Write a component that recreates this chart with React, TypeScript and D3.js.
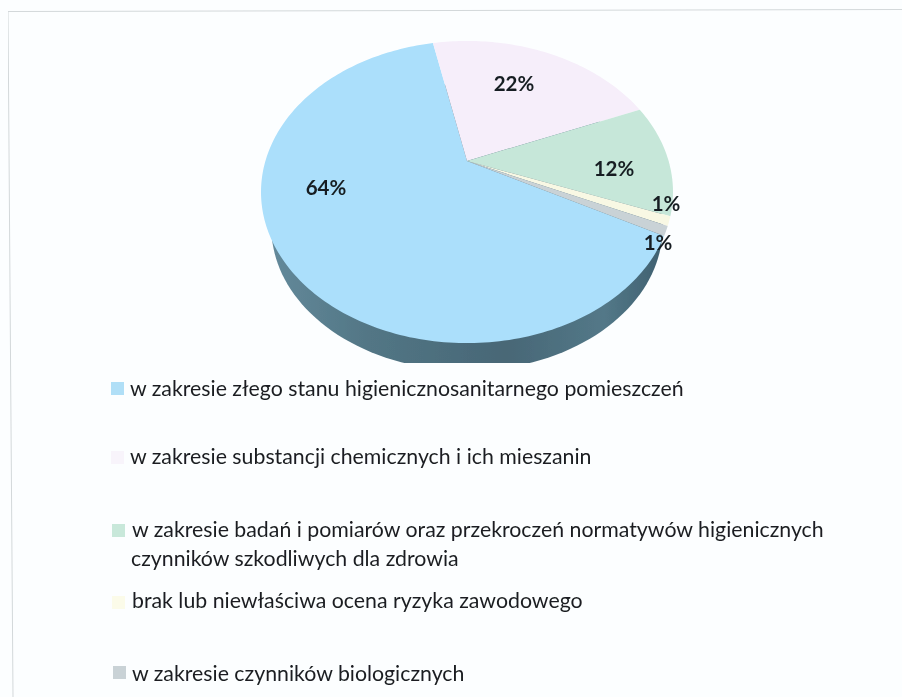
import React from 'react';
import * as d3 from 'd3';

// values
const categories = [
  'w zakresie złego stanu higienicznosanitarnego pomieszczeń',
  'w zakresie substancji chemicznych i ich mieszanin',
  'w zakresie badań i pomiarów oraz przekroczeń normatywów higienicznych',
  'brak lub niewłaściwa ocena ryzyka zawodowego',
  'w zakresie czynników biologicznych',
];
const values = [64, 22, 12, 1, 1];
const colors = ['#abdffb', '#f6eefa', '#c6e7d9', '#f8f8e4', '#c9d2d6'];
const keyColors = ['#b0dff7', '#f8f4fb', '#c8e8da', '#fbfbe9', '#c9d2d6'];
const legendSecondLine = 'czynników szkodliwych dla zdrowia';

const WIDTH = 902;
const HEIGHT = 697;

// the pie is seen in perspective, so its middle sits above the middle of the ellipse
const apex = { x: 467, y: 161 };
const scaleX = 201.6;
const scaleY = 144.7;
const tilt = -0.2055;
const firstAngle = (117.9 * Math.PI) / 180;
const depth = { dy: 35, shrink: 0.95 };
const floorY = 363;

const labelSpots: [number, number][] = [
  [326, 189.5],
  [514, 85.5],
  [614, 170.5],
  [666, 205.5],
  [658, 244.5],
];
const legendRows = [
  { y: 395.5, keyY: 388, textX: 130, keyX: 111 },
  { y: 464, keyY: 457, textX: 130, keyX: 111 },
  { y: 537, keyY: 530, textX: 132, keyX: 112 },
  { y: 608, keyY: 602, textX: 132, keyX: 112 },
  { y: 681, keyY: 672, textX: 132, keyX: 113 },
];

const project = (angle: number, r = 1): [number, number] => {
  const u = r * Math.sin(angle);
  const v = -r * Math.cos(angle);
  const w = 1 + tilt * v;
  return [apex.x + (scaleX * u) / w, apex.y + (scaleY * v) / w];
};

const line = d3.line();

const slicePath = (a0: number, a1: number) => {
  const steps = Math.max(2, Math.ceil((a1 - a0) / 0.02));
  const rim = d3.range(steps + 1).map((i) => project(a0 + ((a1 - a0) * i) / steps));
  return line([[apex.x, apex.y], ...rim]) + 'Z';
};

const App = () => {
  const arcs = d3
    .pie<number>()
    .sort(null)
    .startAngle(firstAngle)
    .endAngle(firstAngle + 2 * Math.PI)(values);

  const rim = d3.range(0, 361, 2).map((d) => project((d * Math.PI) / 180));
  const minY = d3.min(rim, (p) => p[1]) as number;
  const maxY = d3.max(rim, (p) => p[1]) as number;
  const midY = (minY + maxY) / 2;
  const base = rim.map(([x, y]): [number, number] => [
    apex.x + (x - apex.x) * depth.shrink,
    midY + (y - midY) * depth.shrink + depth.dy,
  ]);

  return (
    <svg
      width={WIDTH}
      height={HEIGHT}
      style={{ position: 'absolute', left: 0, top: 0, display: 'block' }}
      fontFamily="Lato, 'Open Sans', sans-serif"
    >
      <defs>
        <linearGradient id="side" x1="0" x2="1" y1="0" y2="0">
          <stop offset="0" stopColor="#63899a" />
          <stop offset="0.25" stopColor="#527685" />
          <stop offset="0.6" stopColor="#486776" />
          <stop offset="0.85" stopColor="#537888" />
          <stop offset="1" stopColor="#3f6070" />
        </linearGradient>
        <clipPath id="floor">
          <rect x={0} y={0} width={WIDTH} height={floorY} />
        </clipPath>
        <filter id="scan" x="0" y="0" width="1" height="1">
          <feGaussianBlur stdDeviation="0.45" />
        </filter>
      </defs>
      <rect width={WIDTH} height={HEIGHT} fill="#fcfeff" />
      <g filter="url(#scan)">
        <path d="M8,11.5L902,9.5M8,11.5L13,697" fill="none" stroke="#d3d8da" strokeWidth={1} />

        <path d={line(base) + 'Z'} fill="url(#side)" clipPath="url(#floor)" />
        {arcs.map((d, i) => (
          <path key={i} d={slicePath(d.startAngle, d.endAngle)} fill={colors[i]} />
        ))}
        {arcs.map((d, i) => (
          <text
            key={i}
            x={labelSpots[i][0]}
            y={labelSpots[i][1]}
            textAnchor="middle"
            dominantBaseline="middle"
            fontSize={20.5}
            fontWeight={700}
            fill="#171f22"
          >
            {d.value}%
          </text>
        ))}

        {categories.map((c, i) => (
          <g key={i}>
            <rect x={legendRows[i].keyX} y={legendRows[i].keyY - 6} width={13} height={13} fill={keyColors[i]} />
            <text x={legendRows[i].textX} y={legendRows[i].y} fontSize={21.3} fill="#1b1f21">
              {c}
            </text>
          </g>
        ))}
        <text x={131} y={566} fontSize={21.3} fill="#1b1f21">
          {legendSecondLine}
        </text>
      </g>
    </svg>
  );
};

export default App;
